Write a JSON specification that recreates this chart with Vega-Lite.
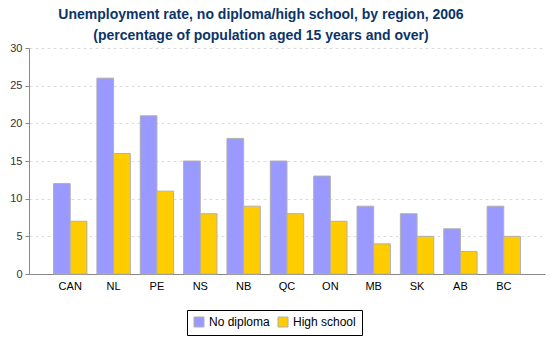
{
  "$schema": "https://vega.github.io/schema/vega-lite/v6.json",
  "width": 516,
  "height": 226,
  "autosize": {"type": "none"},
  "padding": {"left": 29, "top": 48, "right": 5, "bottom": 76},
  "background": "white",
  "title": {
    "text": ["Unemployment rate, no diploma/high school, by region, 2006", "(percentage of population aged 15 years and over)"],
    "font": "Liberation Sans",
    "fontSize": 14,
    "fontWeight": "bold",
    "color": "#0B3468",
    "lineHeight": 21,
    "anchor": "middle",
    "dx": -26,
    "offset": -1
  },
  "data": {
    "values": [
      {"region": "CAN", "type": "No diploma", "value": 12},
      {"region": "CAN", "type": "High school", "value": 7},
      {"region": "NL", "type": "No diploma", "value": 26},
      {"region": "NL", "type": "High school", "value": 16},
      {"region": "PE", "type": "No diploma", "value": 21},
      {"region": "PE", "type": "High school", "value": 11},
      {"region": "NS", "type": "No diploma", "value": 15},
      {"region": "NS", "type": "High school", "value": 8},
      {"region": "NB", "type": "No diploma", "value": 18},
      {"region": "NB", "type": "High school", "value": 9},
      {"region": "QC", "type": "No diploma", "value": 15},
      {"region": "QC", "type": "High school", "value": 8},
      {"region": "ON", "type": "No diploma", "value": 13},
      {"region": "ON", "type": "High school", "value": 7},
      {"region": "MB", "type": "No diploma", "value": 9},
      {"region": "MB", "type": "High school", "value": 4},
      {"region": "SK", "type": "No diploma", "value": 8},
      {"region": "SK", "type": "High school", "value": 5},
      {"region": "AB", "type": "No diploma", "value": 6},
      {"region": "AB", "type": "High school", "value": 3},
      {"region": "BC", "type": "No diploma", "value": 9},
      {"region": "BC", "type": "High school", "value": 5}
    ]
  },
  "mark": {"type": "bar", "stroke": "#B0B0B0", "strokeWidth": 1},
  "encoding": {
    "x": {
      "field": "region",
      "type": "nominal",
      "sort": null,
      "title": null,
      "scale": {"paddingInner": 0.23, "paddingOuter": 0.566},
      "axis": {"labelAngle": 0, "ticks": false, "domainColor": "#888888", "labelFont": "Liberation Sans", "labelFontSize": 11, "labelColor": "#000000", "labelPadding": 6}
    },
    "xOffset": {"field": "type", "sort": ["No diploma", "High school"]},
    "y": {
      "field": "value",
      "type": "quantitative",
      "title": null,
      "scale": {"domain": [0, 30]},
      "axis": {"values": [0, 5, 10, 15, 20, 25, 30], "domainColor": "#888888", "tickColor": "#888888", "tickSize": 4, "gridColor": "#DDDDDD", "gridDash": [3, 3], "labelFont": "Liberation Sans", "labelFontSize": 11, "labelColor": "#333333", "labelPadding": 3}
    },
    "color": {
      "field": "type",
      "type": "nominal",
      "sort": ["No diploma", "High school"],
      "scale": {"domain": ["No diploma", "High school"], "range": ["#9999FF", "#FFCC00"]},
      "legend": {
        "title": null,
        "orient": "none",
        "legendX": 158,
        "legendY": 262,
        "direction": "horizontal",
        "symbolType": "square",
        "symbolSize": 100,
        "symbolStrokeColor": "#B0B0B0",
        "symbolStrokeWidth": 1,
        "labelFont": "Liberation Sans",
        "labelFontSize": 12,
        "labelColor": "#000000",
        "strokeColor": "#000000",
        "padding": 6,
        "columnPadding": 6,
        "fillColor": "white"
      }
    }
  },
  "config": {"view": {"stroke": null}}
}
